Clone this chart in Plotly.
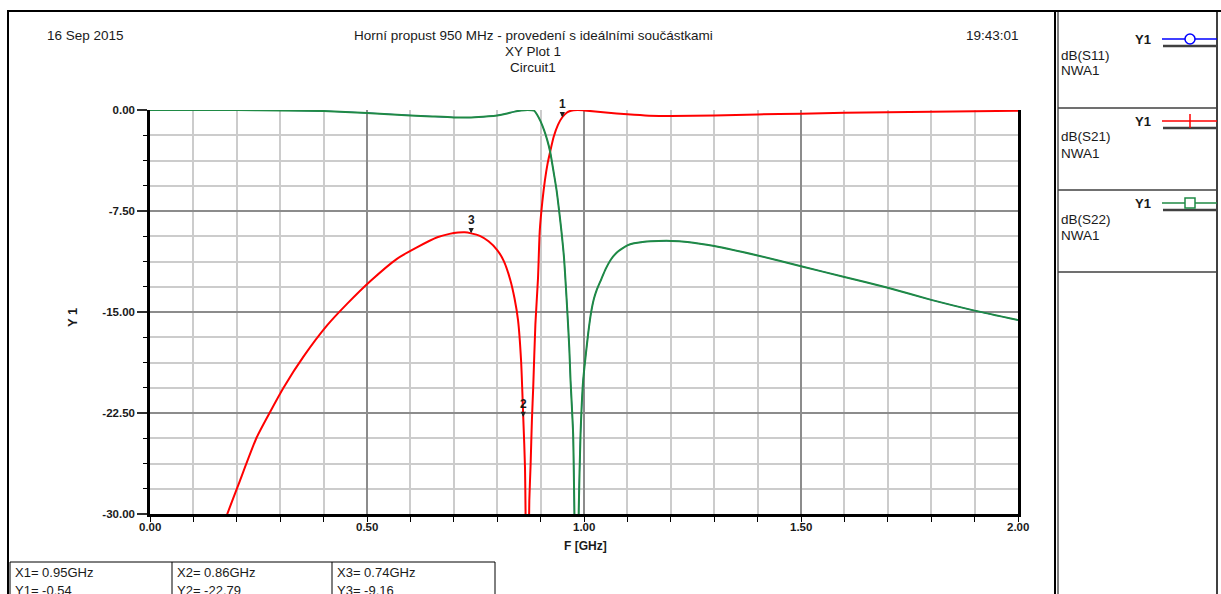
import plotly.graph_objects as go

# ---------------- data ----------------
freq_s21 = [0.10, 0.15, 0.178, 0.204, 0.246, 0.277, 0.308, 0.354, 0.408, 0.454, 0.508,
            0.569, 0.615, 0.662, 0.69, 0.71, 0.725, 0.74, 0.76, 0.78, 0.80, 0.815, 0.83,
            0.84, 0.848, 0.855, 0.86, 0.864, 0.869, 0.874, 0.877, 0.88, 0.883, 0.888,
            0.894, 0.898, 0.904, 0.91, 0.916, 0.922, 0.93, 0.94, 0.95, 0.96, 0.97, 0.985,
            1.0, 1.05, 1.1, 1.15, 1.2, 1.3, 1.4, 1.5, 1.6, 1.7, 1.8, 1.9, 2.0]
db_s21 = [-38.0, -32.4, -30.0, -27.8, -24.3, -22.4, -20.6, -18.3, -16.0, -14.4, -12.7,
          -11.05, -10.2, -9.45, -9.2, -9.1, -9.08, -9.16, -9.35, -9.75, -10.4, -11.2, -12.6,
          -14.0, -15.6, -18.6, -22.79, -26.5, -40.0, -29.0, -26.3, -23.0, -20.6, -15.9,
          -12.5, -9.0, -6.8, -5.2, -4.0, -3.1, -2.0, -1.1, -0.54, -0.2, -0.05, 0.0,
          -0.03, -0.18, -0.32, -0.42, -0.45, -0.4, -0.33, -0.27, -0.21, -0.17, -0.13, -0.09, -0.06]

freq_s22 = [0.0, 0.2, 0.3, 0.4, 0.5, 0.6, 0.65, 0.7, 0.74, 0.78, 0.8, 0.82, 0.84, 0.855,
            0.87, 0.885, 0.892, 0.9, 0.908, 0.915, 0.922, 0.931, 0.937, 0.942, 0.948, 0.954,
            0.958, 0.962, 0.966, 0.969, 0.972, 0.975, 0.983, 0.988, 0.992, 0.998, 1.004,
            1.01, 1.016, 1.023, 1.03, 1.038, 1.05, 1.062, 1.075, 1.085, 1.1, 1.115, 1.135,
            1.154, 1.2, 1.238, 1.3, 1.4, 1.5, 1.6, 1.7, 1.8, 1.9, 2.0]
db_s22 = [0.0, 0.0, -0.03, -0.08, -0.22, -0.4, -0.48, -0.55, -0.56, -0.47, -0.4, -0.28,
          -0.12, -0.04, 0.0, -0.05, -0.35, -0.85, -1.5, -2.2, -3.1, -4.8, -6.0, -7.3, -9.0,
          -11.0, -13.0, -15.2, -17.6, -20.1, -22.0, -24.1, -40.0, -29.5, -24.1, -20.1, -18.2,
          -16.5, -15.1, -14.0, -13.3, -12.7, -11.8, -11.1, -10.6, -10.35, -10.05, -9.9, -9.8,
          -9.75, -9.72, -9.8, -10.1, -10.8, -11.6, -12.4, -13.2, -14.1, -14.9, -15.6]

# symmetric filter: S11 identical to S22 (hidden under the green trace)
freq_s11 = list(freq_s22)
db_s11 = list(db_s22)

marker_ids = ["1", "2", "3"]
marker_x = [0.95, 0.86, 0.74]
marker_y = [-0.54, -22.79, -9.16]

legend_names = ["dB(S11)", "dB(S21)", "dB(S22)"]
legend_source = "NWA1"
x_tick_vals = [0.0, 0.5, 1.0, 1.5, 2.0]
y_tick_vals = [0.0, -7.5, -15.0, -22.5, -30.0]

header_date = "16 Sep 2015"
header_time = "19:43:01"
title_lines = ["Horní propust 950 MHz - provedení s ideálními součástkami", "XY Plot 1", "Circuit1"]

# ---------------- layout helpers ----------------
W, H = 1221, 594
L, R, T, B = 150, 1018, 110, 514
FONT = "Liberation Sans, Arial, sans-serif"
TXT = "#1a1a1a"
RED = "#ff0000"
GREEN = "#1f8a45"
BLUE = "#0000ff"
FS = 13.5


def px(x):
    return (x - L) / (R - L)


def py(y):
    return (B - y) / (B - T)


shapes = []
annotations = []


def hline(x0, x1, y, color="black", w=1.5):
    shapes.append(dict(type="line", xref="paper", yref="paper", x0=px(x0), x1=px(x1),
                       y0=py(y), y1=py(y), line=dict(color=color, width=w), layer="above"))


def vline(x, y0, y1, color="black", w=1.5):
    shapes.append(dict(type="line", xref="paper", yref="paper", x0=px(x), x1=px(x),
                       y0=py(y0), y1=py(y1), line=dict(color=color, width=w), layer="above"))


def text(x, y, s, anchor="left", size=FS, bold=False, angle=0):
    annotations.append(dict(xref="paper", yref="paper", x=px(x), y=py(y), text=s,
                            showarrow=False, xanchor=anchor, yanchor="middle",
                            textangle=angle,
                            font=dict(family=FONT, size=size, color=TXT,
                                      weight="bold" if bold else "normal")))


# outer frame
hline(7, W, 11, w=2)
vline(8, 11, H + 5, w=2)
vline(1055, 11, H + 5, w=2)
vline(1058, 11, H + 5, w=1)
vline(1217, 11, H + 5, w=1.5)
for ys in [108, 190, 272]:
    hline(1058, 1217, ys, color="#404040", w=1.5)

# header
text(45, 35, header_date)
text(533, 35, title_lines[0], anchor="center")
text(533, 51, title_lines[1], anchor="center")
text(533, 68, title_lines[2], anchor="center")
text(1021, 35, header_time, anchor="right")

# legend panel
leg_colors = [BLUE, RED, GREEN]
for i, (name, col) in enumerate(zip(legend_names, leg_colors)):
    y0 = 39 + 82 * i
    text(1153, y0, "Y1", anchor="right", bold=True, size=13)
    hline(1162, 1217, y0, color=col, w=1.5)
    hline(1163, 1217, y0 + 7, color="#404040", w=2.5)
    text(1059, y0 + 16, name)
    text(1059, y0 + 32, legend_source)
    if i == 0:
        shapes.append(dict(type="circle", xref="paper", yref="paper", x0=px(1185), x1=px(1195),
                           y0=py(y0 - 5), y1=py(y0 + 5), fillcolor="white",
                           line=dict(color=col, width=1.5), layer="above"))
    elif i == 1:
        vline(1190, y0 - 7, y0 + 7, color=col, w=1.5)
    else:
        shapes.append(dict(type="rect", xref="paper", yref="paper", x0=px(1185), x1=px(1195),
                           y0=py(y0 - 5), y1=py(y0 + 5), fillcolor="white",
                           line=dict(color=col, width=1.5), layer="above"))

# axis titles
text(72, 318, "Y 1", anchor="center", bold=True, angle=-90, size=13)
text(585, 546, "F [GHz]", anchor="center", size=12, bold=True)

# x tick labels
for v in x_tick_vals:
    annotations.append(dict(x=v, xref="x", y=py(527), yref="paper", text=f"{v:.2f}",
                            showarrow=False, xanchor="center", yanchor="middle",
                            font=dict(family=FONT, size=11.5, color=TXT, weight="bold")))

# marker table
shapes.append(dict(type="rect", xref="paper", yref="paper", x0=px(10), x1=px(495),
                   y0=py(562), y1=py(H + 10), line=dict(color="black", width=1), layer="above"))
vline(172, 562, H + 10, w=1)
vline(332, 562, H + 10, w=1)
for i, cx in enumerate([13, 175, 335]):
    text(cx, 572, f"X{marker_ids[i]}= {marker_x[i]:.2f}GHz", size=13)
    text(cx, 590, f"Y{marker_ids[i]}= {marker_y[i]:.2f}", size=13)

# plot markers
for mid, mx, my in zip(marker_ids, marker_x, marker_y):
    annotations.append(dict(x=mx, y=my, xref="x", yref="y", text=mid, showarrow=True,
                            ax=0, ay=-13, arrowhead=2, arrowsize=0.7, arrowwidth=1.5,
                            arrowcolor="#202020", standoff=0,
                            font=dict(family=FONT, size=12, color=TXT, weight="bold")))

# ---------------- figure ----------------
fig = go.Figure()
fig.add_trace(go.Scatter(x=freq_s11, y=db_s11, mode="lines",
                         line=dict(color=BLUE, width=1, shape="spline", smoothing=0.6),
                         name="dB(S11)"))
fig.add_trace(go.Scatter(x=freq_s21, y=db_s21, mode="lines",
                         line=dict(color=RED, width=2, shape="spline", smoothing=0.6),
                         name="dB(S21)"))
fig.add_trace(go.Scatter(x=freq_s22, y=db_s22, mode="lines",
                         line=dict(color=GREEN, width=2, shape="spline", smoothing=0.6),
                         name="dB(S22)"))

fig.update_layout(
    width=W, height=H, autosize=False,
    margin=dict(l=L, r=W - R, t=T, b=H - B, pad=0),
    paper_bgcolor="white", plot_bgcolor="white",
    showlegend=False,
    shapes=shapes, annotations=annotations,
    font=dict(family=FONT, color=TXT),
    xaxis=dict(range=[0, 2], tickvals=x_tick_vals, showticklabels=False,
               showgrid=True, gridcolor="#8c8c8c", gridwidth=2,
               zeroline=False, showline=True, linecolor="black", linewidth=2.5,
               ticks="outside", ticklen=5, tickcolor="black", tickwidth=1,
               minor=dict(dtick=0.1, tick0=0, showgrid=True, gridcolor="#cccccc", gridwidth=2,
                          ticks="outside", ticklen=5, tickcolor="black", tickwidth=1)),
    yaxis=dict(range=[-30, 0], tickvals=y_tick_vals,
               ticktext=[f"{v:.2f}" for v in y_tick_vals],
               showgrid=True, gridcolor="#8c8c8c", gridwidth=2,
               zeroline=False, showline=True, linecolor="black", linewidth=2.5, mirror=True,
               ticks="outside", ticklen=10, tickcolor="#303030", tickwidth=1.5,
               tickfont=dict(family=FONT, size=11.5, color=TXT, weight="bold"),
               minor=dict(dtick=1.875, tick0=0, showgrid=True, gridcolor="#cccccc", gridwidth=2,
                          ticks="outside", ticklen=4, tickcolor="black", tickwidth=1)),
)

fig.write_html("out.html", config={"displayModeBar": False},
               post_script="document.body.style.margin='0';document.body.style.overflow='hidden';")
